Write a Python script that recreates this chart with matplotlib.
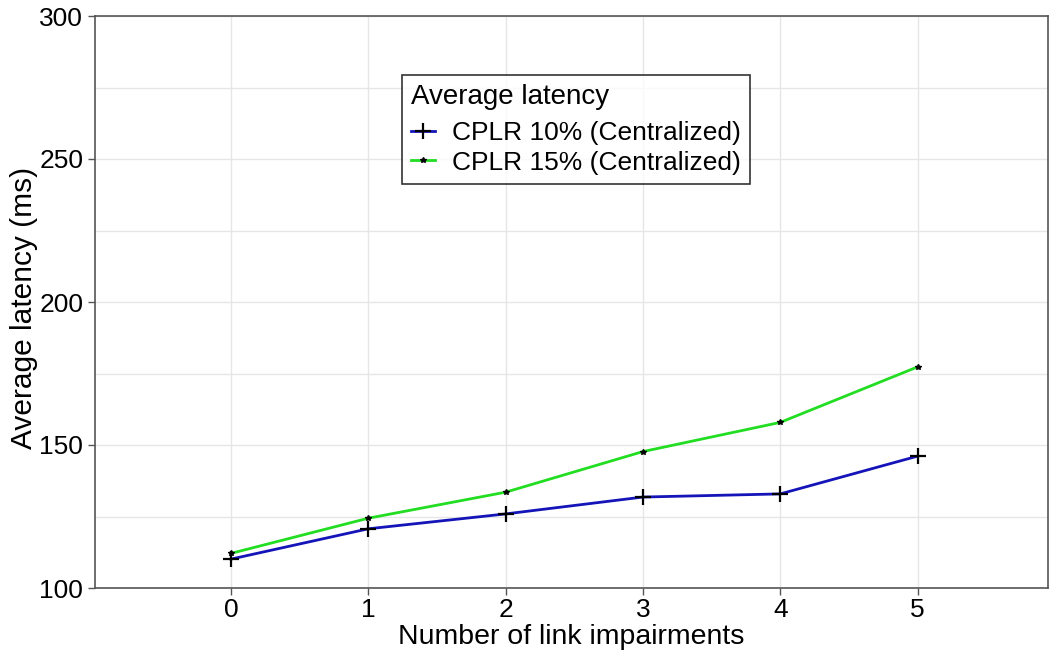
import matplotlib
matplotlib.use("Agg")
import matplotlib.pyplot as plt

plt.rcParams['font.family'] = ['Liberation Sans', 'DejaVu Sans']

impairments = [0, 1, 2, 3, 4, 5]
cplr10 = [110.1, 120.7, 125.9, 131.8, 132.9, 146.1]
cplr15 = [112.1, 124.4, 133.5, 147.7, 157.9, 177.3]
series_labels = ["CPLR 10% (Centralized)", "CPLR 15% (Centralized)"]

fig = plt.figure(figsize=(10.51, 6.55), dpi=100)
ax = fig.add_axes([95 / 1051, 1 - 588 / 655, (1048 - 95) / 1051, (588 - 16) / 655])

ax.plot(impairments, cplr10, color="#1414b8", lw=2, marker="+", ms=11,
        mec="black", mew=1.6, label=series_labels[0])
ax.plot(impairments, cplr15, color="#22dd22", lw=2, marker="*", ms=4,
        mec="black", mfc="black", label=series_labels[1])

ax.set_xlim(-0.99, 5.95)
ax.set_ylim(100, 300)
ax.set_xticks(impairments)
ax.set_yticks([100, 150, 200, 250, 300])
ax.set_yticks([125, 175, 225, 275], minor=True)
ax.grid(True, which="both", color="#e6e6e6", lw=1)
ax.set_axisbelow(True)
ax.tick_params(which="major", labelsize=19, color="#555555", length=5, width=1)
ax.tick_params(axis="x", which="major", pad=2)
ax.tick_params(which="minor", length=0)
for s in ax.spines.values():
    s.set_color("#555555")
    s.set_linewidth(1.2)

ax.set_xlabel("Number of link impairments", fontsize=20.5, labelpad=2)
ax.set_ylabel("Average latency (ms)", fontsize=21.5)
ax.yaxis.set_label_coords((38 - 95) / 953, 0.49)

leg = ax.legend(title="Average latency", loc="upper left",
                bbox_to_anchor=((402 - 95) / 953, 1 - (75 - 16) / 572),
                fontsize=19, title_fontsize=20, frameon=True, fancybox=False,
                edgecolor="black", handlelength=0.9, borderpad=0.35,
                labelspacing=0.2, handletextpad=0.65, borderaxespad=0)
leg._legend_box.align = "left"
leg._legend_box.sep = 8
leg.get_frame().set_linewidth(1.2)

fig.savefig("out.png", dpi=100)
